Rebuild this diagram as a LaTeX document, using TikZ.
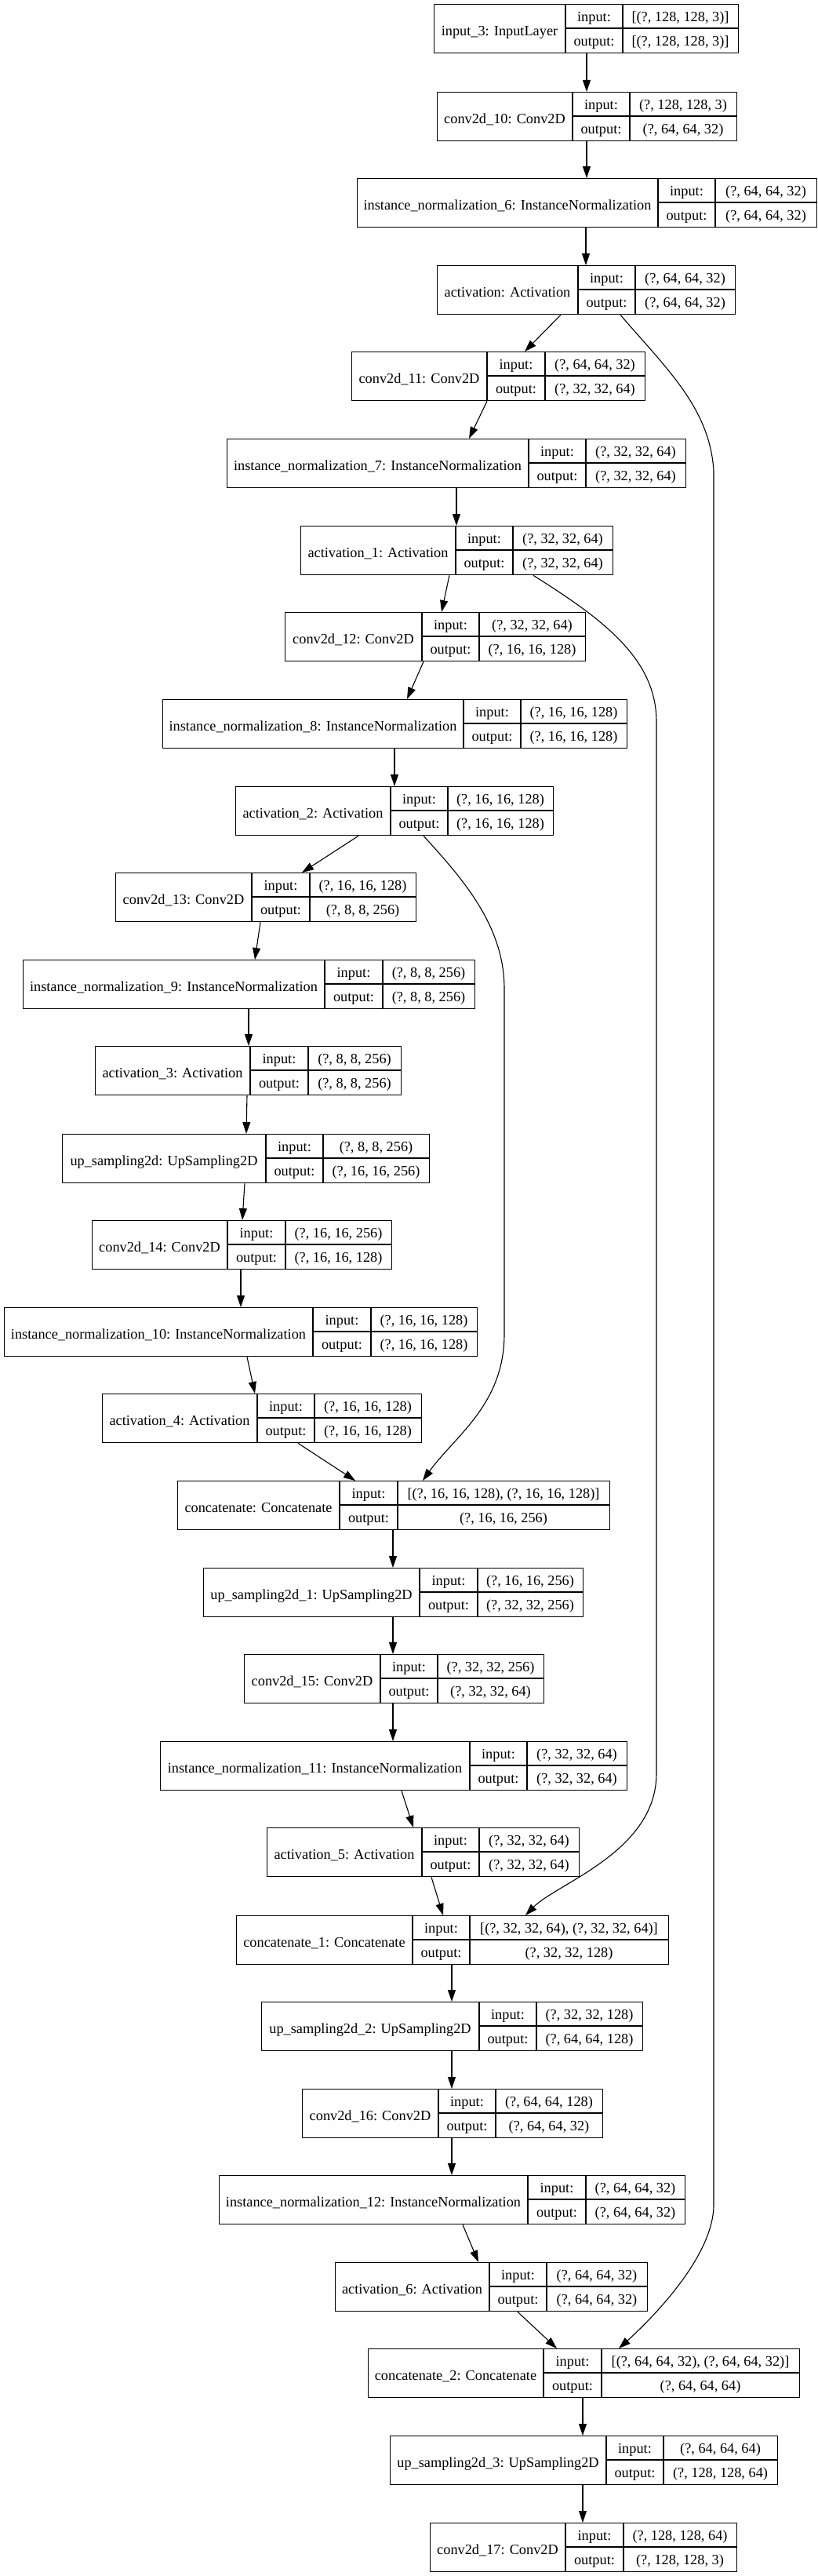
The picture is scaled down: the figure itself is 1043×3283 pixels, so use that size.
\documentclass[tikz,border=0pt]{standalone}
\usepackage{fontspec}
\setmainfont{Liberation Serif}
\usetikzlibrary{arrows.meta}
\tikzset{
  box/.style={draw=black, line width=1.3pt, rectangle, inner sep=0pt, fill=white},
  cellline/.style={draw=black, line width=1.3pt},
  txt/.style={font=\fontsize{18.3}{22}\selectfont, inner sep=0pt, anchor=base},
  conn/.style={draw=black, line width=1.1pt, -{Triangle[length=15pt,width=10pt]}},
}
% #1 name, #2 left, #3 divider1, #4 divider2, #5 right, #6 top, #7 title, #8 input, #9 output
\newcommand\layerbox[9]{%
  \pgfmathsetmacro\lbw{#5-#2}%
  \node[box, minimum width=\lbw pt, minimum height=62pt, anchor=north west] (#1) at (#2,-#6) {};
  \draw[cellline] (#3,-#6) -- (#3,-#6-62);
  \draw[cellline] (#4,-#6) -- (#4,-#6-62);
  \draw[cellline] (#3,-#6-31) -- (#5,-#6-31);
  \node[txt] (#1-t) at ({(#2+#3)/2},{-#6-40.5}) {#7};
  \node[txt] (#1-il) at ({(#3+#4)/2},{-#6-22.5}) {input:};
  \node[txt] (#1-ol) at ({(#3+#4)/2},{-#6-53.5}) {output:};
  \node[txt] (#1-iv) at ({(#4+#5)/2},{-#6-22.5}) {#8};
  \node[txt] (#1-ov) at ({(#4+#5)/2},{-#6-53.5}) {#9};
}
\begin{document}
\begin{tikzpicture}[x=1pt,y=1pt]
\useasboundingbox[fill=white] (0,0) rectangle (1043,-3283);

\layerbox{in3}{553}{721}{794}{941}{5}{input\_3: InputLayer}{[(?, 128, 128, 3)]}{[(?, 128, 128, 3)]}
\layerbox{c10}{557}{730}{803}{939}{117}{conv2d\_10: Conv2D}{(?, 128, 128, 3)}{(?, 64, 64, 32)}
\layerbox{n6}{455}{839}{912}{1041}{227}{instance\_normalization\_6: InstanceNormalization}{(?, 64, 64, 32)}{(?, 64, 64, 32)}
\layerbox{a0}{557}{737}{810}{937}{338}{activation: Activation}{(?, 64, 64, 32)}{(?, 64, 64, 32)}
\layerbox{c11}{448}{621}{695}{822}{448}{conv2d\_11: Conv2D}{(?, 64, 64, 32)}{(?, 32, 32, 64)}
\layerbox{n7}{289}{674}{747}{874}{559}{instance\_normalization\_7: InstanceNormalization}{(?, 32, 32, 64)}{(?, 32, 32, 64)}
\layerbox{a1}{383}{581}{654}{781}{670}{activation\_1: Activation}{(?, 32, 32, 64)}{(?, 32, 32, 64)}
\layerbox{c12}{363}{538}{611}{746}{780}{conv2d\_12: Conv2D}{(?, 32, 32, 64)}{(?, 16, 16, 128)}
\layerbox{n8}{207}{591}{664}{799}{891}{instance\_normalization\_8: InstanceNormalization}{(?, 16, 16, 128)}{(?, 16, 16, 128)}
\layerbox{a2}{300}{498}{571}{705}{1002}{activation\_2: Activation}{(?, 16, 16, 128)}{(?, 16, 16, 128)}
\layerbox{c13}{147}{321}{395}{530}{1112}{conv2d\_13: Conv2D}{(?, 16, 16, 128)}{(?, 8, 8, 256)}
\layerbox{n9}{29}{414}{488}{605}{1223}{instance\_normalization\_9: InstanceNormalization}{(?, 8, 8, 256)}{(?, 8, 8, 256)}
\layerbox{a3}{121}{319}{393}{511}{1333}{activation\_3: Activation}{(?, 8, 8, 256)}{(?, 8, 8, 256)}
\layerbox{u0}{79}{339}{412}{547}{1445}{up\_sampling2d: UpSampling2D}{(?, 8, 8, 256)}{(?, 16, 16, 256)}
\layerbox{c14}{117}{290}{364}{499}{1555}{conv2d\_14: Conv2D}{(?, 16, 16, 256)}{(?, 16, 16, 128)}
\layerbox{n10}{5}{399}{473}{608}{1666}{instance\_normalization\_10: InstanceNormalization}{(?, 16, 16, 128)}{(?, 16, 16, 128)}
\layerbox{a4}{130}{328}{401}{537}{1776}{activation\_4: Activation}{(?, 16, 16, 128)}{(?, 16, 16, 128)}
\layerbox{cat0}{226}{433}{507}{777}{1887}{concatenate: Concatenate}{[(?, 16, 16, 128), (?, 16, 16, 128)]}{(?, 16, 16, 256)}
\layerbox{u1}{259}{535}{609}{743}{1998}{up\_sampling2d\_1: UpSampling2D}{(?, 16, 16, 256)}{(?, 32, 32, 256)}
\layerbox{c15}{311}{485}{558}{693}{2108}{conv2d\_15: Conv2D}{(?, 32, 32, 256)}{(?, 32, 32, 64)}
\layerbox{n11}{204}{599}{672}{799}{2219}{instance\_normalization\_11: InstanceNormalization}{(?, 32, 32, 64)}{(?, 32, 32, 64)}
\layerbox{a5}{340}{538}{611}{738}{2329}{activation\_5: Activation}{(?, 32, 32, 64)}{(?, 32, 32, 64)}
\layerbox{cat1}{301}{526}{599}{852}{2441}{concatenate\_1: Concatenate}{[(?, 32, 32, 64), (?, 32, 32, 64)]}{(?, 32, 32, 128)}
\layerbox{u2}{333}{611}{684}{819}{2551}{up\_sampling2d\_2: UpSampling2D}{(?, 32, 32, 128)}{(?, 64, 64, 128)}
\layerbox{c16}{385}{559}{632}{768}{2662}{conv2d\_16: Conv2D}{(?, 64, 64, 128)}{(?, 64, 64, 32)}
\layerbox{n12}{279}{673}{747}{873}{2772}{instance\_normalization\_12: InstanceNormalization}{(?, 64, 64, 32)}{(?, 64, 64, 32)}
\layerbox{a6}{427}{624}{697}{825}{2883}{activation\_6: Activation}{(?, 64, 64, 32)}{(?, 64, 64, 32)}
\layerbox{cat2}{469}{693}{767}{1019}{2993}{concatenate\_2: Concatenate}{[(?, 64, 64, 32), (?, 64, 64, 32)]}{(?, 64, 64, 64)}
\layerbox{u3}{497}{773}{846}{991}{3104}{up\_sampling2d\_3: UpSampling2D}{(?, 64, 64, 64)}{(?, 128, 128, 64)}
\layerbox{c17}{548}{721}{795}{939}{3215}{conv2d\_17: Conv2D}{(?, 128, 128, 64)}{(?, 128, 128, 3)}

% straight connectors
\draw[conn] (in3.south -| 748,0) -- (c10.north -| 748,0);
\draw[conn] (c10.south -| 748,0) -- (n6.north -| 748,0);
\draw[conn] (n6.south -| 747,0) -- (a0.north -| 747,0);
\draw[conn] (a0.south -| 715,0) -- (c11.north -| 669,0);
\draw[conn] (c11.south -| 621,0) -- (n7.north -| 598,0);
\draw[conn] (n7.south -| 582,0) -- (a1.north -| 582,0);
\draw[conn] (a1.south -| 573,0) -- (c12.north -| 563,0);
\draw[conn] (c12.south -| 540,0) -- (n8.north -| 519,0);
\draw[conn] (n8.south -| 503,0) -- (a2.north -| 503,0);
\draw[conn] (a2.south -| 457,0) -- (c13.north -| 385,0);
\draw[conn] (c13.south -| 332,0) -- (n9.north -| 325,0);
\draw[conn] (n9.south -| 317,0) -- (a3.north -| 317,0);
\draw[conn] (a3.south -| 315,0) -- (u0.north -| 314,0);
\draw[conn] (u0.south -| 312,0) -- (c14.north -| 309,0);
\draw[conn] (c14.south -| 307,0) -- (n10.north -| 307,0);
\draw[conn] (n10.south -| 315,0) -- (a4.north -| 325,0);
\draw[conn] (a4.south -| 380,0) -- (cat0.north -| 453,0);
\draw[conn] (cat0.south -| 501,0) -- (u1.north -| 501,0);
\draw[conn] (u1.south -| 501,0) -- (c15.north -| 501,0);
\draw[conn] (c15.south -| 501,0) -- (n11.north -| 501,0);
\draw[conn] (n11.south -| 512,0) -- (a5.north -| 527,0);
\draw[conn] (a5.south -| 550,0) -- (cat1.north -| 565,0);
\draw[conn] (cat1.south -| 576,0) -- (u2.north -| 576,0);
\draw[conn] (u2.south -| 576,0) -- (c16.north -| 576,0);
\draw[conn] (c16.south -| 576,0) -- (n12.north -| 576,0);
\draw[conn] (n12.south -| 590,0) -- (a6.north -| 610,0);
\draw[conn] (a6.south -| 660,0) -- (cat2.north -| 710,0);
\draw[conn] (cat2.south -| 743,0) -- (u3.north -| 743,0);
\draw[conn] (u3.south -| 743,0) -- (c17.north -| 743,0);

% skip connectors
\draw[conn] (a0.south -| 791,0) .. controls (850,-470) and (905,-520) .. (910,-600)
  -- (910,-2810) .. controls (910,-2880) and (820,-2965) .. (cat2.north -| 789,0);
\draw[conn] (a1.south -| 680,0) .. controls (770,-790) and (837,-840) .. (837,-920)
  -- (837,-2260) .. controls (837,-2360) and (710,-2400) .. (cat1.north -| 670,0);
\draw[conn] (a2.south -| 540,0) .. controls (590,-1120) and (643,-1180) .. (643,-1260)
  -- (643,-1700) .. controls (643,-1790) and (580,-1830) .. (cat0.north -| 539,0);
\end{tikzpicture}
\end{document}
